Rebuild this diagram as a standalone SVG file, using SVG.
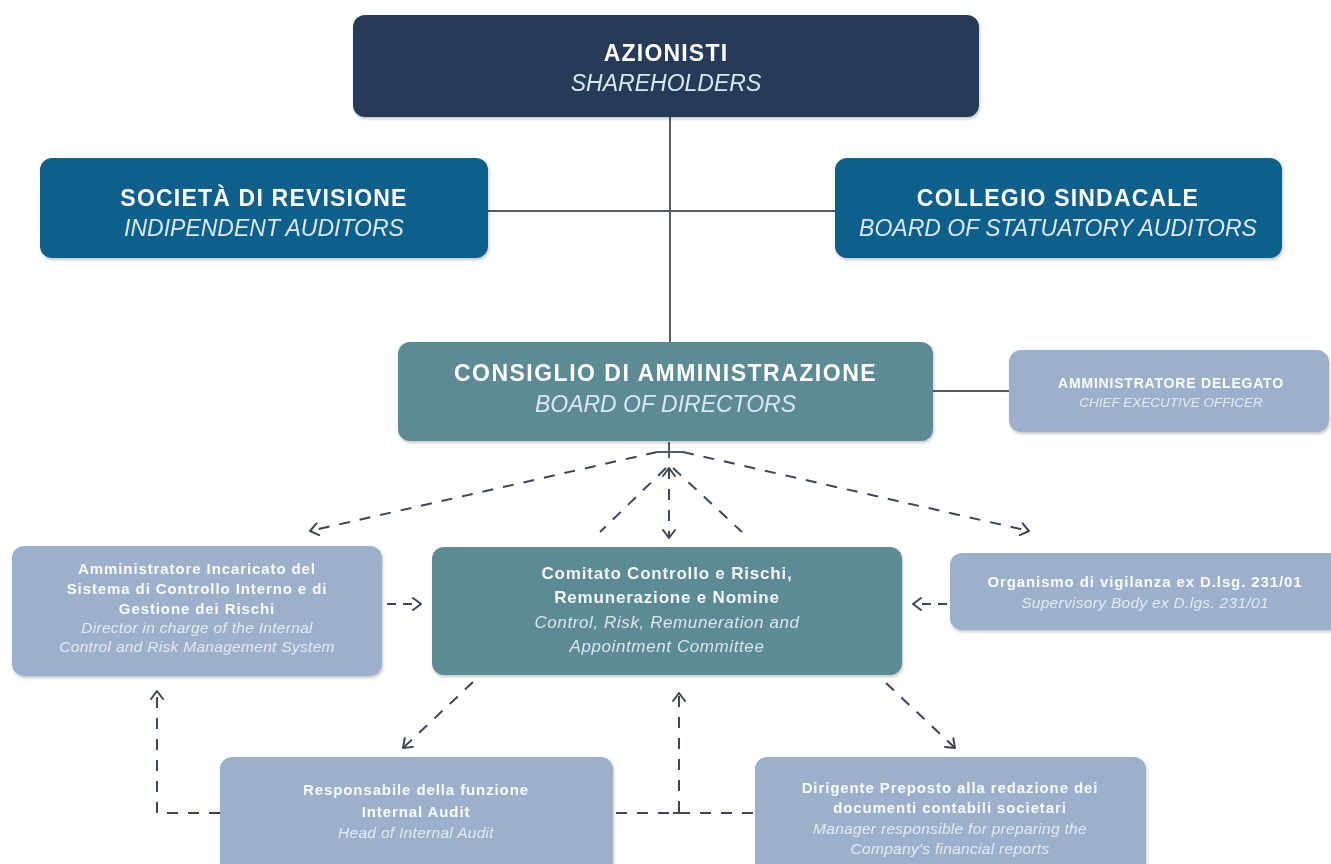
<svg xmlns="http://www.w3.org/2000/svg" width="1331" height="864" viewBox="0 0 1331 864">
<defs>
<filter id="sh" x="-5%" y="-10%" width="110%" height="130%">
<feDropShadow dx="1" dy="2" stdDeviation="1.5" flood-color="#000" flood-opacity="0.22"/>
</filter>
<marker id="chev" viewBox="-1 -8 11 16" refX="9" refY="0" markerWidth="11" markerHeight="16" markerUnits="userSpaceOnUse" orient="auto">
<path d="M1,-6 L9,0 L1,6" fill="none" stroke="#3b4658" stroke-width="2" stroke-linecap="round" stroke-linejoin="round"/>
</marker>
<marker id="chevs" viewBox="-1 -8 11 16" refX="9" refY="0" markerWidth="11" markerHeight="16" markerUnits="userSpaceOnUse" orient="auto-start-reverse">
<path d="M1,-6 L9,0 L1,6" fill="none" stroke="#3b4658" stroke-width="2" stroke-linecap="round" stroke-linejoin="round"/>
</marker>
</defs>
<style>
text{font-family:"Liberation Sans",Arial,sans-serif;text-anchor:middle}
.navy{fill:#263b59}
.blue{fill:#115e8c}
.teal{fill:#5b8a95}
.light{fill:#9db0cb}
.tb{font-weight:bold;font-size:23px;letter-spacing:1.2px;fill:#ffffff}
.ti{font-style:italic;font-size:23px;fill:#dbe8f1}
.mb{font-weight:bold;font-size:17px;letter-spacing:0.8px;fill:#f4f7fa}
.mi{font-style:italic;font-size:17px;letter-spacing:0.6px;fill:#dbe6ea}
.sb{font-weight:bold;font-size:15px;letter-spacing:0.9px;fill:#f8fafc}
.si{font-style:italic;font-size:15.5px;letter-spacing:0.3px;fill:#e3e9f2}
.ab{font-weight:bold;font-size:14px;letter-spacing:0.8px;fill:#f8fafc}
.ai{font-style:italic;font-size:13.5px;fill:#e3e9f2}
.solid{fill:none;stroke:#555b63;stroke-width:2}
.dash{fill:none;stroke:#3b4658;stroke-width:2;stroke-dasharray:11 10}
.dashs{fill:none;stroke:#3b4658;stroke-width:2;stroke-dasharray:9 7}
</style>

<g id="connectors">
<line class="solid" x1="670" y1="117" x2="670" y2="342"/>
<line class="solid" x1="488" y1="211" x2="835" y2="211"/>
<line class="solid" x1="933" y1="391" x2="1009" y2="391"/>
<line class="solid" x1="669" y1="442" x2="669" y2="458"/>
<line class="solid" x1="657" y1="452" x2="683" y2="452"/>
<line class="dash" x1="657" y1="452" x2="310" y2="531" marker-end="url(#chev)"/>
<line class="dash" x1="683" y1="452" x2="1029" y2="531" marker-end="url(#chev)"/>
<line class="dash" x1="669" y1="468" x2="669" y2="538" marker-start="url(#chevs)" marker-end="url(#chev)"/>
<line class="dash" x1="666" y1="468" x2="600" y2="532"/>
<line class="dash" x1="673" y1="468" x2="742" y2="532"/>
<line class="dashs" x1="387" y1="604" x2="421" y2="604" marker-end="url(#chev)"/>
<line class="dashs" x1="947" y1="604" x2="913" y2="604" marker-end="url(#chev)"/>
<line class="dash" x1="473" y1="682" x2="403" y2="748" marker-end="url(#chev)"/>
<line class="dash" x1="886" y1="683" x2="955" y2="748" marker-end="url(#chev)"/>
<line class="dash" x1="616" y1="813" x2="755" y2="813"/>
<line class="dash" x1="679" y1="812" x2="679" y2="693" marker-end="url(#chev)"/>
<line class="solid" x1="673" y1="813" x2="685" y2="813" style="stroke:#3b4658"/>
<polyline class="dash" points="220,813 157,813 157,691" marker-end="url(#chev)"/>
</g>

<g id="azionisti" filter="url(#sh)">
<rect class="navy" x="353" y="15" width="626" height="102" rx="12"/>
<text class="tb" x="666" y="61">AZIONISTI</text>
<text class="ti" x="666" y="91">SHAREHOLDERS</text>
</g>

<g id="societa" filter="url(#sh)">
<rect class="blue" x="40" y="158" width="448" height="100" rx="12"/>
<text class="tb" x="264" y="206">SOCIETÀ DI REVISIONE</text>
<text class="ti" x="264" y="236">INDIPENDENT AUDITORS</text>
</g>

<g id="collegio" filter="url(#sh)">
<rect class="blue" x="835" y="158" width="447" height="100" rx="12"/>
<text class="tb" x="1058" y="206">COLLEGIO SINDACALE</text>
<text class="ti" x="1058" y="236">BOARD OF STATUATORY AUDITORS</text>
</g>

<g id="consiglio" filter="url(#sh)">
<rect class="teal" x="398" y="342" width="535" height="99" rx="12"/>
<text class="tb" x="665.5" y="381" style="letter-spacing:1.5px">CONSIGLIO DI AMMINISTRAZIONE</text>
<text class="ti" x="665.5" y="412">BOARD OF DIRECTORS</text>
</g>

<g id="amministratore-delegato" filter="url(#sh)">
<rect class="light" x="1009" y="350" width="320" height="82" rx="12"/>
<text class="ab" x="1171" y="388">AMMINISTRATORE DELEGATO</text>
<text class="ai" x="1171" y="407">CHIEF EXECUTIVE OFFICER</text>
</g>

<g id="amministratore-incaricato" filter="url(#sh)">
<rect class="light" x="12" y="546" width="370" height="130" rx="12"/>
<text class="sb" x="197" y="574">Amministratore Incaricato del</text>
<text class="sb" x="197" y="594">Sistema di Controllo Interno e di</text>
<text class="sb" x="197" y="614">Gestione dei Rischi</text>
<text class="si" x="197" y="633">Director in charge of the Internal</text>
<text class="si" x="197" y="652">Control and Risk Management System</text>
</g>

<g id="comitato" filter="url(#sh)">
<rect class="teal" x="432" y="547" width="470" height="128" rx="12"/>
<text class="mb" x="667" y="579">Comitato Controllo e Rischi,</text>
<text class="mb" x="667" y="603">Remunerazione e Nomine</text>
<text class="mi" x="667" y="628">Control, Risk, Remuneration and</text>
<text class="mi" x="667" y="652">Appointment Committee</text>
</g>

<g id="organismo" filter="url(#sh)">
<rect class="light" x="950" y="553" width="395" height="77" rx="12"/>
<text class="sb" x="1145" y="587">Organismo di vigilanza ex D.lsg. 231/01</text>
<text class="si" x="1145" y="608">Supervisory Body ex D.lgs. 231/01</text>
</g>

<g id="responsabile" filter="url(#sh)">
<rect class="light" x="220" y="757" width="393" height="125" rx="12"/>
<text class="sb" x="416" y="795">Responsabile della funzione</text>
<text class="sb" x="416" y="817">Internal Audit</text>
<text class="si" x="416" y="838">Head of Internal Audit</text>
</g>

<g id="dirigente" filter="url(#sh)">
<rect class="light" x="755" y="757" width="391" height="125" rx="12"/>
<text class="sb" x="950" y="793">Dirigente Preposto alla redazione dei</text>
<text class="sb" x="950" y="813">documenti contabili societari</text>
<text class="si" x="950" y="834">Manager responsible for preparing the</text>
<text class="si" x="950" y="854">Company's financial reports</text>
</g>
</svg>
